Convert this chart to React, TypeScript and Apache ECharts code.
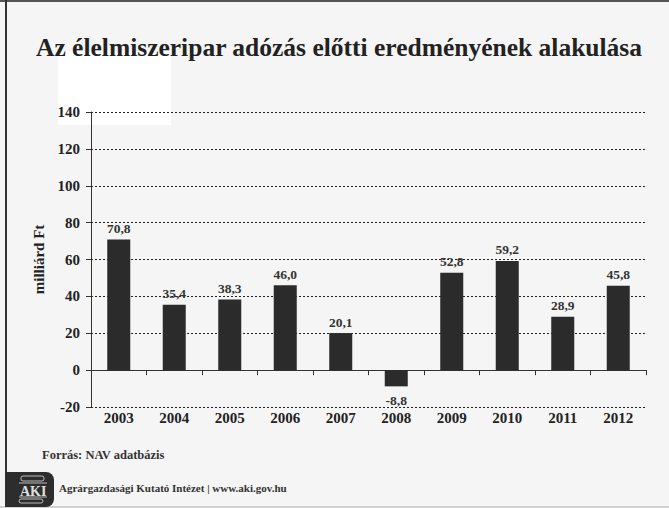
import React, { useEffect, useRef } from "react";
import * as echarts from "echarts";

const years = ["2003", "2004", "2005", "2006", "2007", "2008", "2009", "2010", "2011", "2012"];
const values = [70.8, 35.4, 38.3, 46.0, 20.1, -8.8, 52.8, 59.2, 28.9, 45.8];
const yMin = -20;
const yMax = 140;
const yStep = 20;

const titleText = "Az élelmiszeripar adózás előtti eredményének alakulása";
const yAxisName = "milliárd Ft";
const sourceText = "Forrás: NAV adatbázis";
const footerText = "Agrárgazdasági Kutató Intézet | www.aki.gov.hu";

const SERIF = "Liberation Serif";

export default function App() {
  const ref = useRef<HTMLDivElement>(null);
  useEffect(() => {
    if (!ref.current) return;
    const chart = echarts.init(ref.current, undefined, { renderer: "svg" });
    const fmt = (v: number) => v.toFixed(1).replace(".", ",");
    chart.setOption({
      animation: false,
      backgroundColor: "#f5f5f5",
      title: {
        text: titleText,
        left: 31,
        top: 29,
        textStyle: { fontFamily: SERIF, fontWeight: "bold", fontSize: 25.5, color: "#222" },
      },
      grid: { left: 91, right: 23, top: 112, bottom: 101, containLabel: false },
      xAxis: [
        {
          type: "category",
          data: years,
          axisLine: { onZero: true, lineStyle: { color: "#333", width: 1 } },
          axisTick: { show: true, length: 5, inside: false, lineStyle: { color: "#333" } },
          axisLabel: { show: false },
          splitLine: { show: false },
        },
        {
          type: "category",
          data: years,
          position: "bottom",
          axisLine: { show: false, onZero: false },
          axisTick: { show: false },
          axisLabel: {
            show: true,
            margin: 3,
            fontFamily: SERIF,
            fontWeight: "bold",
            fontSize: 15,
            color: "#222",
          },
        },
      ],
      yAxis: {
        type: "value",
        min: yMin,
        max: yMax,
        interval: yStep,
        name: yAxisName,
        nameLocation: "middle",
        nameGap: 40,
        nameRotate: 90,
        nameTextStyle: { fontFamily: SERIF, fontWeight: "bold", fontSize: 15, color: "#222" },
        axisLine: { show: true, lineStyle: { color: "#333", width: 1 } },
        axisTick: { show: true, length: 5, lineStyle: { color: "#333" } },
        axisLabel: { margin: 11, fontFamily: SERIF, fontWeight: "bold", fontSize: 15, color: "#222" },
        splitLine: { show: true, lineStyle: { color: "#222", type: [2, 2], width: 1 } },
      },
      series: [
        {
          type: "bar",
          xAxisIndex: 0,
          barWidth: 23,
          data: values.map((v) => ({
            value: v,
            label: {
              show: true,
              position: v >= 0 ? "top" : "bottom",
              distance: v >= 0 ? 4 : 7,
              formatter: () => fmt(v),
              fontFamily: SERIF,
              fontWeight: "bold",
              fontSize: 13.5,
              color: "#333",
            },
          })),
          itemStyle: { color: "#2b2b2b" },
        },
      ],
      graphic: [
        { type: "rect", z: -10, shape: { x: 58, y: 51, width: 113, height: 74 }, style: { fill: "#ffffff" } },
        { type: "rect", shape: { x: 0, y: 0, width: 669, height: 2 }, style: { fill: "#555" } },
        { type: "rect", shape: { x: 5, y: 0, width: 2, height: 508 }, style: { fill: "#333" } },
        { type: "rect", shape: { x: 0, y: 506, width: 669, height: 2 }, style: { fill: "#d0d0d0" } },
        {
          type: "text",
          left: 42,
          top: 448,
          style: { text: sourceText, fontFamily: SERIF, fontWeight: "bold", fontSize: 12.5, fill: "#333" },
        },
        {
          type: "rect",
          shape: { x: 5, y: 472, width: 49, height: 35, r: [0, 8, 8, 0] },
          style: { fill: "#2d2d2d" },
        },
        { type: "rect", shape: { x: 21, y: 476, width: 23, height: 5, r: 2 }, style: { fill: "none", stroke: "#bbb", lineWidth: 1 } },
        { type: "line", shape: { x1: 19, y1: 483, x2: 47, y2: 483 }, style: { stroke: "#bbb", lineWidth: 1 } },
        {
          type: "text",
          left: 20,
          top: 484,
          style: { text: "AKI", fontFamily: SERIF, fontWeight: "bold", fontSize: 14, fill: "#e0e0e0" },
        },
        { type: "line", shape: { x1: 19, y1: 497, x2: 47, y2: 497 }, style: { stroke: "#bbb", lineWidth: 1 } },
        { type: "rect", shape: { x: 19, y: 499, width: 24, height: 4, r: 2 }, style: { fill: "none", stroke: "#bbb", lineWidth: 1 } },
        {
          type: "text",
          left: 59,
          top: 482,
          style: { text: footerText, fontFamily: SERIF, fontWeight: "bold", fontSize: 11, fill: "#333" },
        },
      ],
    });
    return () => chart.dispose();
  }, []);
  return <div ref={ref} style={{ width: 669, height: 508, position: "absolute", left: 0, top: 0 }} />;
}
